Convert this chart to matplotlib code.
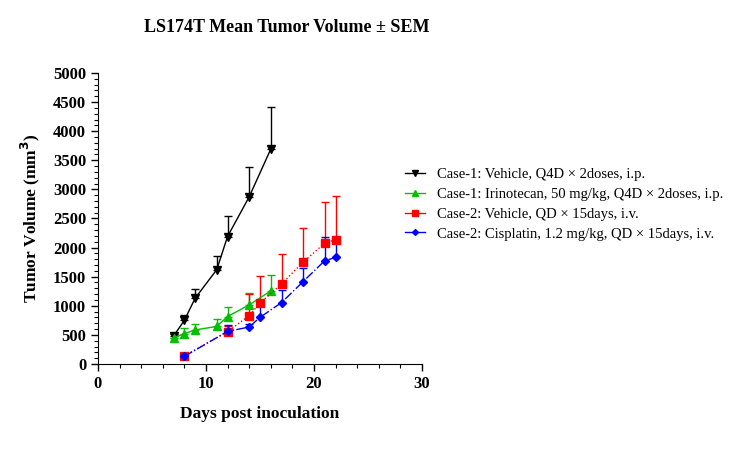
import numpy as np
import matplotlib.pyplot as plt
from matplotlib.lines import Line2D

plt.rcParams['font.family'] = ['Liberation Serif', 'DejaVu Serif']

# data (mean and upper SEM)
veh1_days = [7, 8, 9, 11, 12, 14, 16]
veh1_mean = [480, 750, 1130, 1620, 2190, 2870, 3690]
veh1_sem = [40, 90, 160, 240, 360, 520, 720]

iri_days = [7, 8, 9, 11, 12, 14, 16]
iri_mean = [450, 520, 585, 645, 815, 1015, 1255]
iri_sem = [0, 90, 100, 130, 170, 210, 280]

veh2_days = [8, 12, 14, 15, 17, 19, 21, 22]
veh2_mean = [140, 555, 830, 1045, 1375, 1750, 2075, 2135]
veh2_sem = [20, 100, 370, 470, 510, 590, 700, 750]

cis_days = [8, 12, 14, 15, 17, 19, 21, 22]
cis_mean = [130, 560, 635, 800, 1055, 1415, 1775, 1830]
cis_sem = [20, 110, 60, 250, 220, 240, 410, 360]

labels = ["Case-1: Vehicle, Q4D \u00d7 2doses, i.p.",
          "Case-1: Irinotecan, 50 mg/kg, Q4D \u00d7 2doses, i.p.",
          "Case-2: Vehicle, QD \u00d7 15days, i.v.",
          "Case-2: Cisplatin, 1.2 mg/kg, QD \u00d7 15days, i.v."]

fig = plt.figure(figsize=(7.35, 4.53), dpi=100)
ax = fig.add_axes([0.1333, 0.1965, 0.4407, 0.6425])

series = [
    (veh1_days, veh1_mean, veh1_sem, 'black', 'v', '-', 6),
    (iri_days, iri_mean, iri_sem, '#00c000', '^', '-', 6),
    (veh2_days, veh2_mean, veh2_sem, 'red', 's', ':', 6),
    (cis_days, cis_mean, cis_sem, 'blue', 'D', '-.', 4),
]
handles = []
for (d, m, s, c, mk, ls, ms), lab in zip(series, labels):
    lo = np.zeros(len(s))
    ax.errorbar(d, m, yerr=[lo, s], color=c, marker=mk, ms=ms,
                linestyle=ls, linewidth=1, elinewidth=1, capsize=3,
                capthick=1)
    handles.append(Line2D([], [], color=c, marker=mk, ms=ms - 1,
                          linestyle='-', linewidth=1))

ax.set_xlim(0, 30)
ax.set_ylim(0, 5000)
ax.set_xticks([0, 10, 20, 30])
ax.set_xticks(np.arange(0, 31, 2), minor=True)
ax.set_yticks(np.arange(0, 5001, 500))
ax.set_yticks(np.arange(0, 5001, 100), minor=True)
ax.spines['top'].set_visible(False)
ax.spines['right'].set_visible(False)
ax.tick_params(which='major', length=5, width=1, labelsize=12)
ax.tick_params(which='minor', length=3, width=0.8)
for t in ax.get_xticklabels() + ax.get_yticklabels():
    t.set_fontweight('bold')

ax.set_xlabel("Days post inoculation", fontsize=12.5, fontweight='bold', labelpad=10)
ax.set_ylabel("Tumor Volume (mm$^\\mathbf{3}$)", fontsize=12.5, fontweight='bold', labelpad=8)
fig.text(0.39, 0.94, "LS174T Mean Tumor Volume \u00b1 SEM", fontsize=13,
         fontweight='bold', ha='center', va='center')

fig.legend(handles=handles, labels=labels, loc='upper left',
           bbox_to_anchor=(0.533, 0.658), frameon=False, fontsize=10.5,
           handlelength=1.4, labelspacing=0.45)

fig.savefig("out.png", dpi=100)
